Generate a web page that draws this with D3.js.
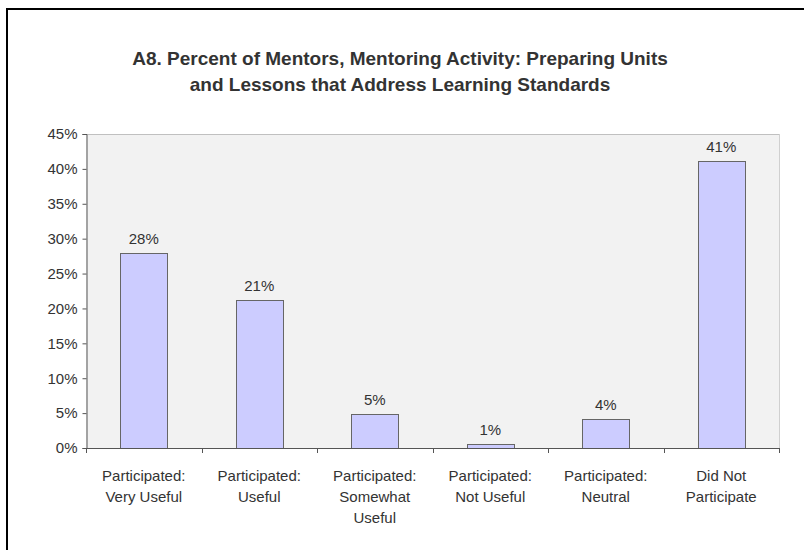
<!DOCTYPE html>
<html>
<head>
<meta charset="utf-8">
<script src="https://cdn.jsdelivr.net/npm/d3@7"></script>
<style>
  body { margin: 0; background: #fff; }
  svg { display: block; font-family: Arial, "Liberation Sans", sans-serif; }
</style>
</head>
<body>
<script>
// chart data
var categories = ["Participated: Very Useful", "Participated: Useful", "Participated: Somewhat Useful",
                  "Participated: Not Useful", "Participated: Neutral", "Did Not Participate"];
var categoryLines = [["Participated:", "Very Useful"], ["Participated:", "Useful"], ["Participated:", "Somewhat", "Useful"],
                     ["Participated:", "Not Useful"], ["Participated:", "Neutral"], ["Did Not", "Participate"]];
var values = [27.9, 21.2, 4.9, 0.6, 4.2, 41.2];
var valueLabels = ["28%", "21%", "5%", "1%", "4%", "41%"];
var yTicks = [0, 5, 10, 15, 20, 25, 30, 35, 40, 45];
var titleLines = ["A8. Percent of Mentors, Mentoring Activity: Preparing Units",
                  "and Lessons that Address Learning Standards"];

var w = 804;
var h = 550;
var plotL = 86, plotR = 779, plotT = 134, plotB = 448;

var svg = d3.select("body")
            .append("svg")
            .attr("width", w)
            .attr("height", h);

// outer frame (runs off the right and bottom edge)
svg.append("rect")
   .attr("x", 7).attr("y", 9)
   .attr("width", 900).attr("height", 700)
   .attr("fill", "none")
   .attr("stroke", "#000")
   .attr("stroke-width", 2);

// title
svg.append("g").selectAll("text")
   .data(titleLines)
   .enter()
   .append("text")
   .attr("x", 400)
   .attr("y", function(d, i) { return 65 + i * 26; })
   .attr("text-anchor", "middle")
   .attr("font-size", "19px")
   .attr("font-weight", "bold")
   .attr("fill", "#333")
   .text(function(d) { return d; });

var x = d3.scaleBand()
          .domain(categories)
          .range([plotL, plotR])
          .paddingInner(0)
          .paddingOuter(0);

var y = d3.scaleLinear()
          .domain([0, 45])
          .range([plotB, plotT]);

// plot background
svg.append("rect")
   .attr("x", plotL).attr("y", plotT)
   .attr("width", plotR - plotL).attr("height", plotB - plotT)
   .attr("fill", "#f2f2f2");
svg.append("line")
   .attr("x1", plotL).attr("x2", plotR + 0.5)
   .attr("y1", plotT + 0.5).attr("y2", plotT + 0.5)
   .attr("stroke", "#c0c0c0");
svg.append("line")
   .attr("x1", plotR + 0.5).attr("x2", plotR + 0.5)
   .attr("y1", plotT).attr("y2", plotB)
   .attr("stroke", "#d0d0d0");

// bars
var barW = x.bandwidth() * 0.41;
svg.selectAll("rect.bar")
   .data(values)
   .enter()
   .append("rect")
   .attr("class", "bar")
   .attr("x", function(d, i) { return Math.round(x(categories[i]) + x.bandwidth() / 2 - barW / 2) + 0.5; })
   .attr("y", function(d) { return Math.round(y(d)) + 0.5; })
   .attr("width", Math.round(barW))
   .attr("height", function(d) { return Math.round(plotB - y(d)); })
   .attr("fill", "#ccccff")
   .attr("stroke", "#666");

// value labels
svg.selectAll("text.val")
   .data(values)
   .enter()
   .append("text")
   .attr("class", "val")
   .attr("x", function(d, i) { return x(categories[i]) + x.bandwidth() / 2; })
   .attr("y", function(d) { return y(d) - 9; })
   .attr("text-anchor", "middle")
   .attr("font-size", "15px")
   .attr("fill", "#333")
   .text(function(d, i) { return valueLabels[i]; });

// y axis
var yAxis = d3.axisLeft(y)
              .tickValues(yTicks)
              .tickSize(4)
              .tickPadding(5)
              .tickFormat(function(d) { return d + "%"; });
var gy = svg.append("g")
            .attr("transform", "translate(" + (plotL + 0.5) + ",0)")
            .call(yAxis);
gy.select(".domain").attr("stroke", "#555");
gy.selectAll(".tick line").attr("stroke", "#555");
gy.selectAll(".tick text")
  .attr("font-size", "15px")
  .attr("font-family", "Arial, 'Liberation Sans', sans-serif")
  .attr("fill", "#333");

// x axis line with ticks at band edges
svg.append("line")
   .attr("x1", plotL).attr("x2", plotR + 1)
   .attr("y1", plotB + 0.5).attr("y2", plotB + 0.5)
   .attr("stroke", "#555");
var edges = categories.map(function(c) { return x(c); }).concat([plotR]);
svg.selectAll("line.xtick")
   .data(edges)
   .enter()
   .append("line")
   .attr("class", "xtick")
   .attr("x1", function(d) { return Math.round(d) + 0.5; })
   .attr("x2", function(d) { return Math.round(d) + 0.5; })
   .attr("y1", plotB).attr("y2", plotB + 5)
   .attr("stroke", "#555");

// category labels
var labels = svg.selectAll("text.cat")
   .data(categories)
   .enter()
   .append("text")
   .attr("class", "cat")
   .attr("text-anchor", "middle")
   .attr("font-size", "15px")
   .attr("fill", "#333");
labels.selectAll("tspan")
   .data(function(d, i) { return categoryLines[i].map(function(t) { return { t: t, c: d }; }); })
   .enter()
   .append("tspan")
   .attr("x", function(d) { return x(d.c) + x.bandwidth() / 2; })
   .attr("y", function(d, j) { return 481 + j * 21; })
   .text(function(d) { return d.t; });
</script>
</body>
</html>
